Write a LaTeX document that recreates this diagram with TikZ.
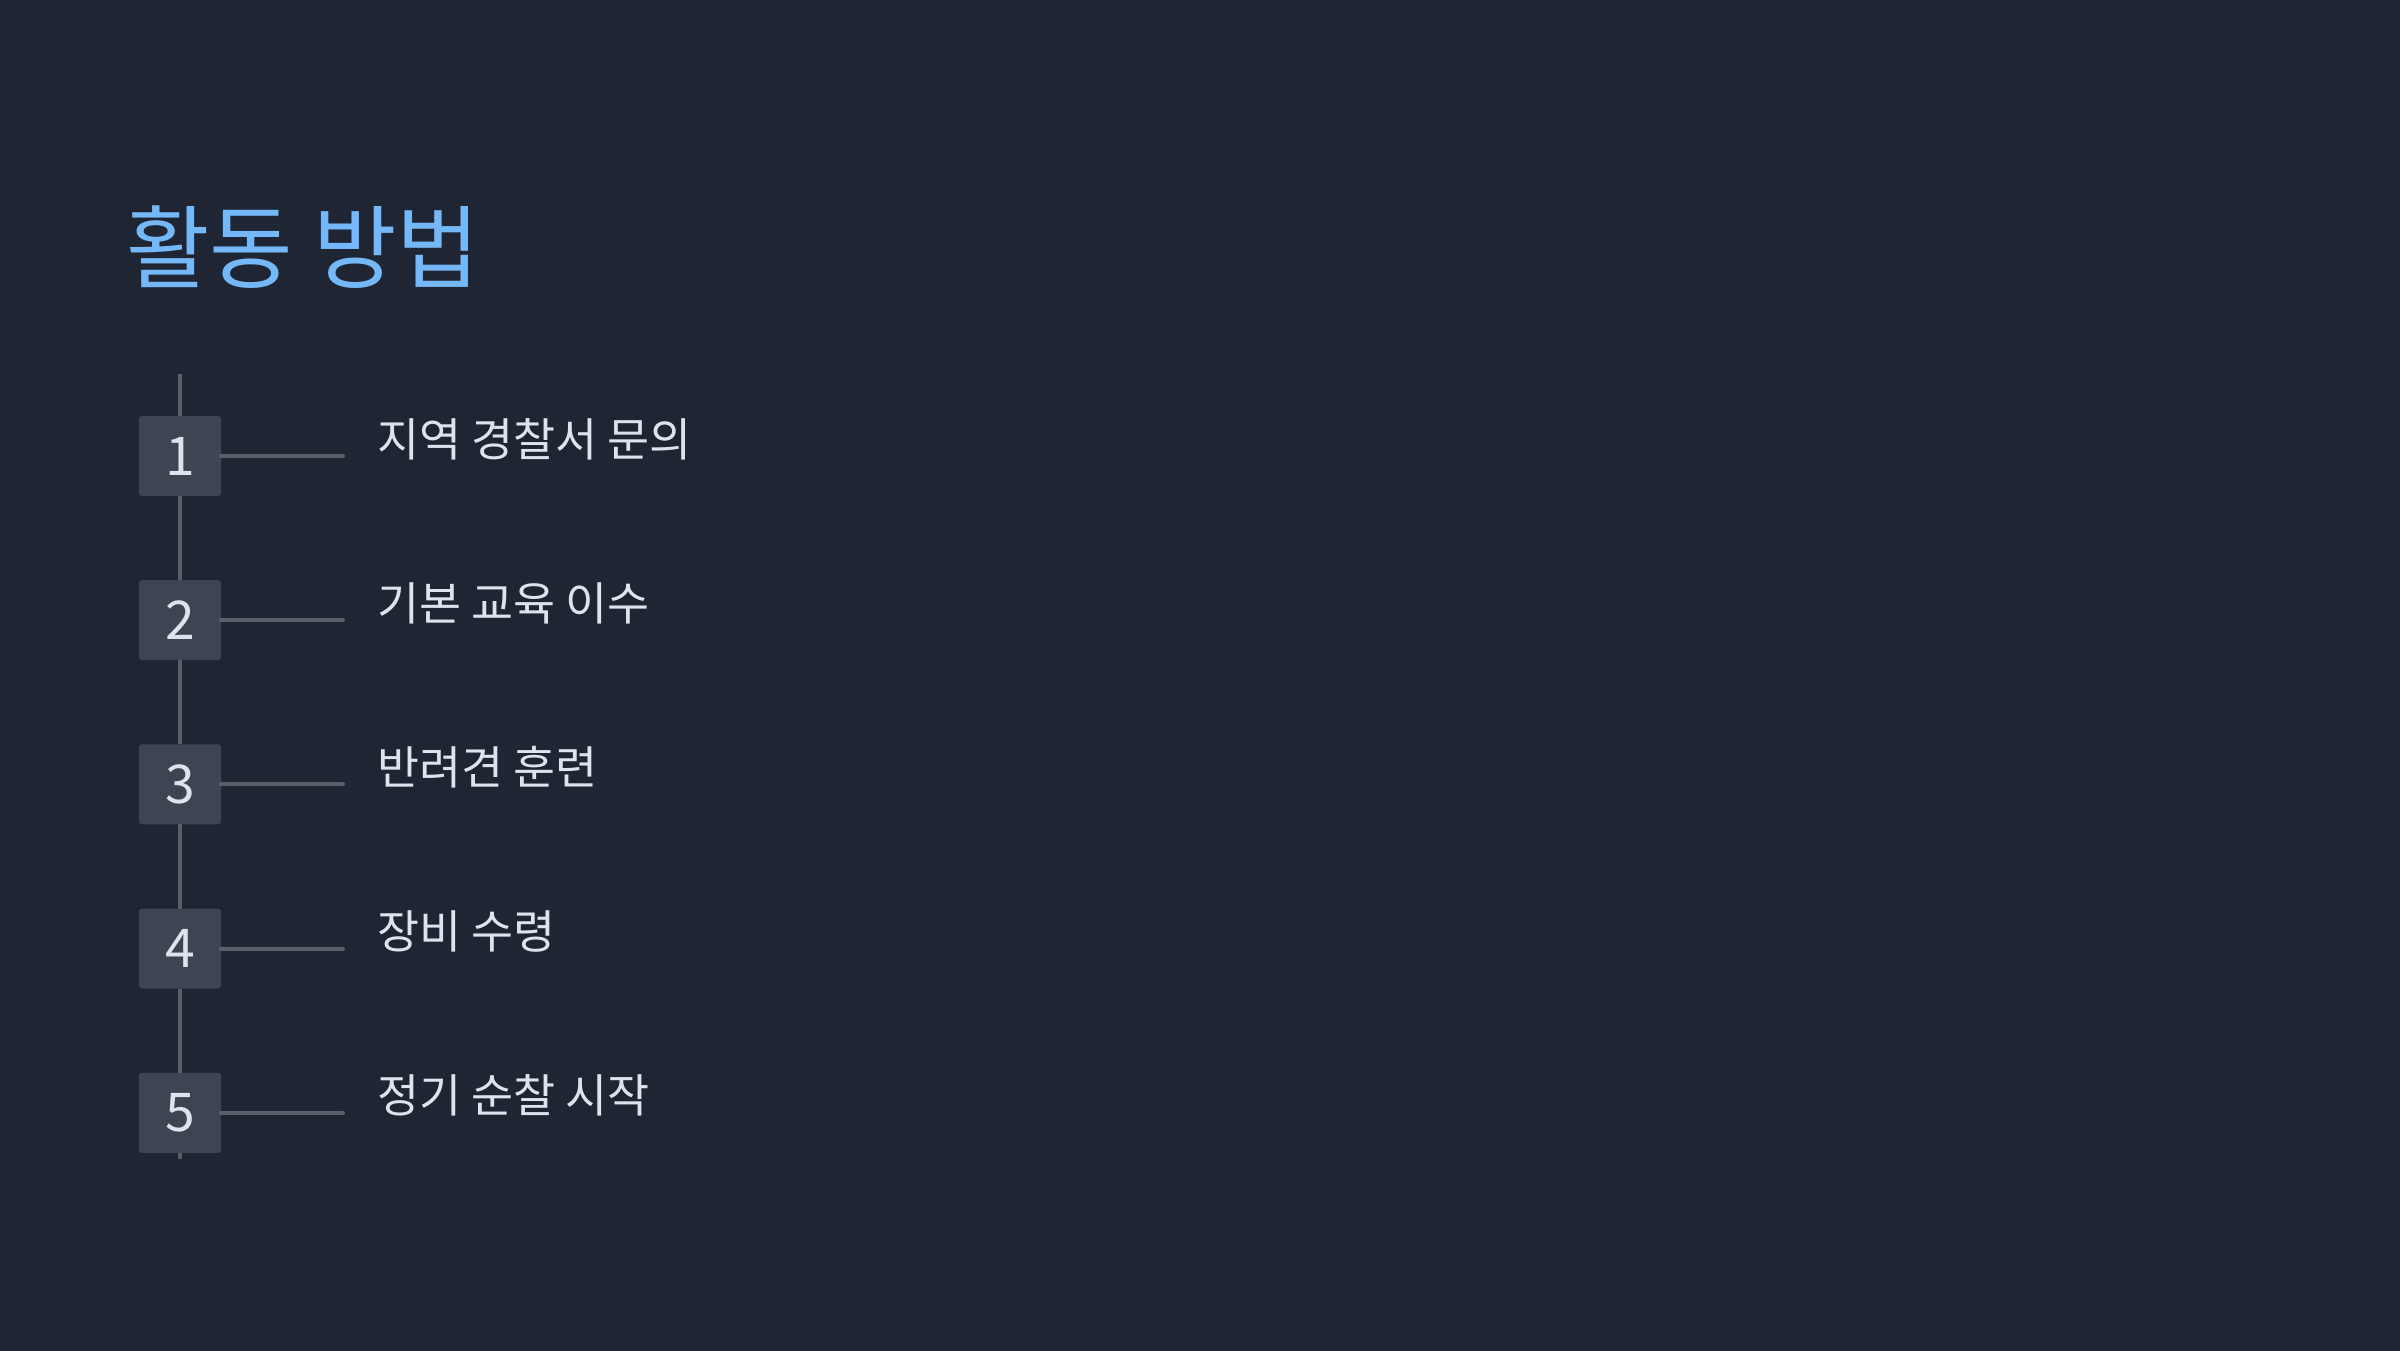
\documentclass[tikz,border=0pt]{standalone}
\usepackage{fontspec}
\setmainfont{Noto Sans CJK KR}
\definecolor{bgcol}{HTML}{1F2532}
\definecolor{boxcol}{HTML}{3E4451}
\definecolor{linecol}{HTML}{5A606B}
\definecolor{titlecol}{HTML}{75B8FA}
\definecolor{textcol}{HTML}{DCE5EF}

\begin{document}
\begin{tikzpicture}
[x=0.01cm, y=-0.01cm,
 every node/.style={inner sep=0pt, outer sep=0pt},
 stepno/.style={rectangle, minimum width=0.82cm, minimum height=0.8cm, rounded corners=0.9pt, fill=boxcol, text=textcol, font=\fontsize{15.2}{18}\selectfont},
 steptext/.style={anchor=base west, text=textcol, font=\fontsize{13.0}{16}\selectfont},
 rail/.style={line width=1.15pt, color=linecol},
 tick/.style={line width=1.15pt, color=linecol, line cap=round}]
\useasboundingbox (0,0) rectangle (2400,1350);
\fill [bgcol] (-20,-20) rectangle (2420,1370);

\node (title) [anchor=base west, text=titlecol, font=\fontsize{25.8}{30}\selectfont] at (126, 281) {활동 방법};

% rail ends
\coordinate (top) at (180, 374);
\coordinate (bottom) at (180, 1159);

\node (b1) [stepno] at (180, 456.0) {1};
\node (b2) [stepno] at (180, 620.2) {2};
\node (b3) [stepno] at (180, 784.4) {3};
\node (b4) [stepno] at (180, 948.6) {4};
\node (b5) [stepno] at (180, 1112.8) {5};

\draw [rail] (top) -- (b1);
\draw [rail] (b1) -- (b2);
\draw [rail] (b2) -- (b3);
\draw [rail] (b3) -- (b4);
\draw [rail] (b4) -- (b5);
\draw [rail] (b5) -- (bottom);

\coordinate (e1) at (343, 456.0);
\coordinate (e2) at (343, 620.2);
\coordinate (e3) at (343, 784.4);
\coordinate (e4) at (343, 948.6);
\coordinate (e5) at (343, 1112.8);
\draw [tick] (b1.east) -- (e1);
\draw [tick] (b2.east) -- (e2);
\draw [tick] (b3.east) -- (e3);
\draw [tick] (b4.east) -- (e4);
\draw [tick] (b5.east) -- (e5);

\node (t1) [steptext] at (377, 456.0) {지역 경찰서 문의};
\node (t2) [steptext] at (377, 620.2) {기본 교육 이수};
\node (t3) [steptext] at (377, 784.4) {반려견 훈련};
\node (t4) [steptext] at (377, 948.6) {장비 수령};
\node (t5) [steptext] at (377, 1112.8) {정기 순찰 시작};
\end{tikzpicture}
\end{document}
